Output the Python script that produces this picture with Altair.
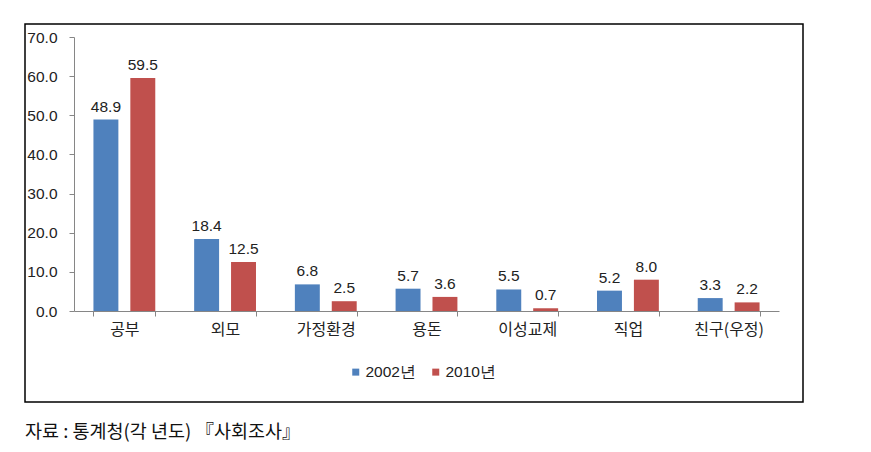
import altair as alt
import pandas as pd

categories = ["공부", "외모", "가정환경", "용돈", "이성교제", "직업", "친구(우정)"]
v2002 = [48.9, 18.4, 6.8, 5.7, 5.5, 5.2, 3.3]
v2010 = [59.5, 12.5, 2.5, 3.6, 0.7, 8.0, 2.2]
series = ["2002년", "2010년"]
colors = ["#4F81BD", "#C0504D"]
y_ticks = [0, 10, 20, 30, 40, 50, 60, 70]
caption = "자료 : 통계청(각 년도) 『사회조사』"

rows = []
for c, a, b in zip(categories, v2002, v2010):
    rows.append({"cat": c, "series": series[0], "value": a})
    rows.append({"cat": c, "series": series[1], "value": b})
df = pd.DataFrame(rows)

NUMFONT = "Liberation Sans"
KFONT = "Noto Sans CJK KR"

x = alt.X("cat:N", sort=categories, title=None,
          scale=alt.Scale(paddingInner=0.386, paddingOuter=0.193),
          axis=alt.Axis(labelAngle=0, labelFont=KFONT, labelFontSize=16, labelColor="#222222",
                        labelPadding=5, tickBand="extent", tickSize=5, domainColor="#868686",
                        tickColor="#868686", grid=False))
xo = alt.XOffset("series:N", sort=series, scale=alt.Scale(paddingInner=0.324, paddingOuter=0))
y = alt.Y("value:Q", title=None,
          scale=alt.Scale(domain=[0, 70], nice=False),
          axis=alt.Axis(values=y_ticks, format=".1f", labelFont=NUMFONT, labelFontSize=15.5,
                        labelColor="#222222", labelPadding=12, tickSize=5, domainColor="#868686",
                        tickColor="#868686", grid=False))
color = alt.Color("series:N", sort=series, title=None,
                  scale=alt.Scale(domain=series, range=colors),
                  legend=alt.Legend(orient="none", legendX=274, legendY=327, direction="horizontal",
                                    symbolType="square", symbolSize=49, symbolStrokeWidth=0,
                                    labelFont=NUMFONT, labelFontSize=15.5, labelColor="#222222",
                                    columnPadding=12, labelOffset=2))

base = alt.Chart(df)
bars = base.mark_bar().encode(x=x, xOffset=xo, y=y, color=color)
labels = base.mark_text(dy=-13, font=NUMFONT, fontSize=15.5, color="#222222").encode(
    x=x, xOffset=xo, y=y, text=alt.Text("value:Q", format=".1f"))

one = pd.DataFrame({"t": [caption]})
border = alt.Chart(one).mark_rect(fill=None, stroke="black", strokeWidth=1.5).encode(
    x=alt.value(-49), x2=alt.value(729), y=alt.value(-13), y2=alt.value(365))
cap = alt.Chart(one).mark_text(align="left", baseline="middle", font="Noto Sans CJK KR",
                               fontSize=18.5, color="#111111").encode(
    x=alt.value(-49), y=alt.value(395), text="t:N")

chart = alt.layer(bars, labels, border, cap).properties(
    width=705, height=274,
    background="white",
    autosize=alt.AutoSizeParams(type="none"),
    padding={"left": 74, "top": 37, "right": 92, "bottom": 141},
).configure_view(stroke=None)

chart.save("out.html", embed_options={"renderer": "svg", "actions": False})
